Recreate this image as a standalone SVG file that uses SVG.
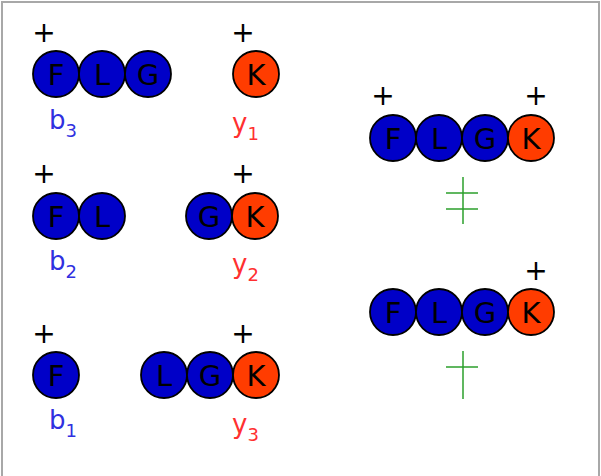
<svg xmlns="http://www.w3.org/2000/svg" width="601" height="476" viewBox="0 0 601 476">
<style>
.b{fill:#0000c8;stroke:#000;stroke-width:1.8}
.k{fill:#ff3c00;stroke:#000;stroke-width:1.8}
.t{font-family:"DejaVu Sans",Verdana,sans-serif;font-size:29px;fill:#000;text-anchor:middle}
.p{font-family:"DejaVu Sans",Verdana,sans-serif;font-size:28px;fill:#000;text-anchor:middle}
.lb{font-family:"DejaVu Sans",Verdana,sans-serif;font-size:26px;fill:#3030e0}
.ly{font-family:"DejaVu Sans",Verdana,sans-serif;font-size:26px;fill:#ff3030}
.s{font-size:18px}
.x{stroke:#2ca02c;stroke-width:1.5;fill:none}
</style>
<rect x="2" y="2" width="597" height="480" fill="#fff" stroke="#a8a8a8" stroke-width="2"/>

<g id="b3">
<text class="p" x="44" y="42">+</text>
<circle class="b" cx="56" cy="74" r="23"/><text class="t" x="56" y="84.5">F</text>
<circle class="b" cx="102" cy="74" r="23"/><text class="t" x="102" y="84.5">L</text>
<circle class="b" cx="148" cy="74" r="23"/><text class="t" x="148" y="84.5">G</text>
<text class="lb" x="49" y="129">b<tspan class="s" dy="8">3</tspan></text>
</g>

<g id="y1">
<text class="p" x="243" y="42">+</text>
<circle class="k" cx="256" cy="74" r="23"/><text class="t" x="256" y="84.5">K</text>
<text class="ly" x="232" y="132">y<tspan class="s" dy="8">1</tspan></text>
</g>

<g id="b2">
<text class="p" x="44" y="183">+</text>
<circle class="b" cx="56" cy="216" r="23"/><text class="t" x="56" y="226.5">F</text>
<circle class="b" cx="102" cy="216" r="23"/><text class="t" x="102" y="226.5">L</text>
<text class="lb" x="49" y="270">b<tspan class="s" dy="8">2</tspan></text>
</g>

<g id="y2">
<text class="p" x="243" y="183">+</text>
<circle class="b" cx="209" cy="216" r="23"/><text class="t" x="209" y="226.5">G</text>
<circle class="k" cx="255" cy="216" r="23"/><text class="t" x="255" y="226.5">K</text>
<text class="ly" x="232" y="273">y<tspan class="s" dy="8">2</tspan></text>
</g>

<g id="b1">
<text class="p" x="44" y="343">+</text>
<circle class="b" cx="56" cy="375" r="23"/><text class="t" x="56" y="385.5">F</text>
<text class="lb" x="49" y="429">b<tspan class="s" dy="8">1</tspan></text>
</g>

<g id="y3">
<text class="p" x="243" y="343">+</text>
<circle class="b" cx="164" cy="375" r="23"/><text class="t" x="164" y="385.5">L</text>
<circle class="b" cx="210" cy="375" r="23"/><text class="t" x="210" y="385.5">G</text>
<circle class="k" cx="256" cy="375" r="23"/><text class="t" x="256" y="385.5">K</text>
<text class="ly" x="232" y="433">y<tspan class="s" dy="8">3</tspan></text>
</g>

<g id="full1">
<text class="p" x="383" y="105">+</text>
<text class="p" x="536" y="105">+</text>
<circle class="b" cx="393" cy="138" r="23"/><text class="t" x="393" y="148.5">F</text>
<circle class="b" cx="439" cy="138" r="23"/><text class="t" x="439" y="148.5">L</text>
<circle class="b" cx="485" cy="138" r="23"/><text class="t" x="485" y="148.5">G</text>
<circle class="k" cx="531" cy="138" r="23"/><text class="t" x="531" y="148.5">K</text>
</g>

<g id="full2">
<text class="p" x="536" y="280">+</text>
<circle class="b" cx="393" cy="312" r="23"/><text class="t" x="393" y="322.5">F</text>
<circle class="b" cx="439" cy="312" r="23"/><text class="t" x="439" y="322.5">L</text>
<circle class="b" cx="485" cy="312" r="23"/><text class="t" x="485" y="322.5">G</text>
<circle class="k" cx="531" cy="312" r="23"/><text class="t" x="531" y="322.5">K</text>
</g>

<g id="connectors">
<path class="x" d="M463 177V224M446 193H478M446 209H478"/>
<path class="x" d="M463 351V399M446 367H478"/>
</g>
</svg>
